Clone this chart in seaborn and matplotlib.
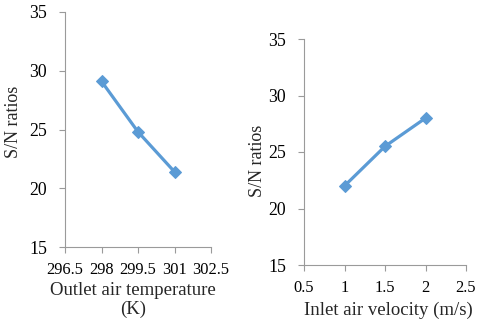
import matplotlib
matplotlib.use("Agg")
import matplotlib.pyplot as plt
import seaborn as sns
import pandas as pd

# Data
outlet_temp = [298, 299.5, 301]
sn_outlet = [29.1, 24.8, 21.4]
inlet_vel = [1, 1.5, 2]
sn_inlet = [22.0, 25.5, 28.0]

left_xticks = [296.5, 298, 299.5, 301, 302.5]
right_xticks = [0.5, 1, 1.5, 2, 2.5]
yticks = [15, 20, 25, 30, 35]

sns.set_style("white")
plt.rcParams['font.family'] = ['Liberation Serif', 'DejaVu Serif']
plt.rcParams['font.size'] = 12

LINE = "#5B9BD5"
SPINE = "#9A9A9A"

fig = plt.figure(figsize=(4.8, 3.23), dpi=100)
ax1 = fig.add_axes([65/480, (323-247)/323, (211-65)/480, (247-12)/323])
ax2 = fig.add_axes([304/480, (323-265)/323, (466-304)/480, (265-39)/323])

df1 = pd.DataFrame({"x": outlet_temp, "y": sn_outlet})
df2 = pd.DataFrame({"x": inlet_vel, "y": sn_inlet})

for ax, df, xt in [(ax1, df1, left_xticks), (ax2, df2, right_xticks)]:
    sns.lineplot(data=df, x="x", y="y", ax=ax, color=LINE, linewidth=2.3,
                 marker="D", markersize=6.5, markeredgecolor=LINE, markerfacecolor=LINE)
    ax.set_xlim(xt[0], xt[-1])
    ax.set_ylim(15, 35)
    ax.set_xticks(xt)
    ax.set_xticklabels([f"{v:g}" for v in xt])
    ax.set_yticks(yticks)
    for s in ["top", "right"]:
        ax.spines[s].set_visible(False)
    for s in ["left", "bottom"]:
        ax.spines[s].set_color(SPINE)
        ax.spines[s].set_linewidth(0.8)
    ax.tick_params(axis="both", which="major", direction="out", length=4, width=0.8,
                   color=SPINE, labelcolor="black", left=True, bottom=True)
    ax.tick_params(axis="x", labelsize=11.8, pad=7)
    ax.tick_params(axis="y", labelsize=12.8, pad=9)
    ax.grid(False)

ax1.set_xlabel("Outlet air temperature\n(K)", fontsize=13.5, va="center", linespacing=1.2)
ax1.xaxis.set_label_coords((133-65)/146, -(300-247)/235)
ax1.set_ylabel("S/N ratios", fontsize=13, va="center")
ax1.yaxis.set_label_coords((14-65)/146, (247-122)/235)

ax2.set_xlabel("Inlet air velocity (m/s)", fontsize=13.5, va="center")
ax2.xaxis.set_label_coords((388-304)/162, -(310-265)/226)
ax2.set_ylabel("S/N ratios", fontsize=13, va="center")
ax2.yaxis.set_label_coords((258-304)/162, (265-161)/226)

fig.savefig("out.png", dpi=100)
